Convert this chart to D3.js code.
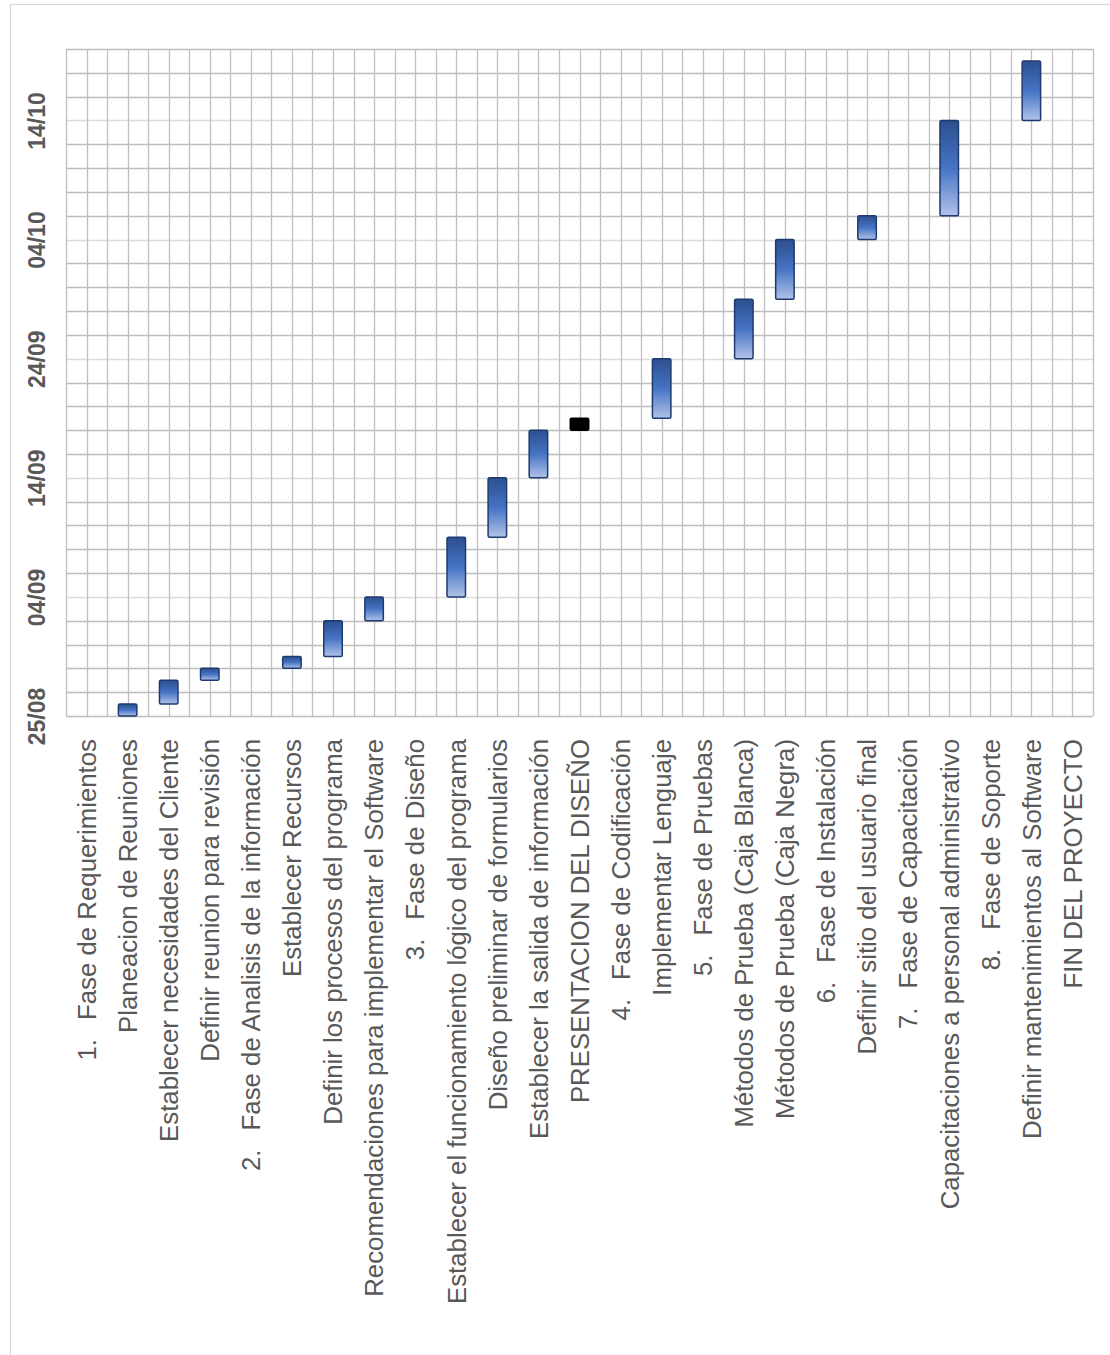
<!DOCTYPE html>
<html>
<head>
<meta charset="utf-8">
<script src="https://cdn.jsdelivr.net/npm/d3@7"></script>
<style>
  html, body { margin: 0; padding: 0; background: #ffffff; }
  svg { display: block; }
</style>
</head>
<body>
<svg id="chart" width="1110" height="1355"></svg>
<script>
// Project schedule: one column per task, dates run bottom (start) to top (end)
const categories = [
  "1. Fase de Requerimientos",
  "Planeacion de Reuniones",
  "Establecer necesidades del Cliente",
  "Definir reunion para revisión",
  "2. Fase de Analisis de la información",
  "Establecer Recursos",
  "Definir los procesos del programa",
  "Recomendaciones para implementar el Software",
  "3. Fase de Diseño",
  "Establecer el funcionamiento lógico del programa",
  "Diseño preliminar de formularios",
  "Establecer la salida de información",
  "PRESENTACION DEL DISEÑO",
  "4. Fase de Codificación",
  "Implementar Lenguaje",
  "5. Fase de Pruebas",
  "Métodos de Prueba (Caja Blanca)",
  "Métodos de Prueba (Caja Negra)",
  "6. Fase de Instalación",
  "Definir sitio del usuario final",
  "7. Fase de Capacitación",
  "Capacitaciones a personal administrativo",
  "8. Fase de Soporte",
  "Definir mantenimientos al Software",
  "FIN DEL PROYECTO"
];

const startDates = [
  null, "2019-08-25", "2019-08-26", "2019-08-28",
  null, "2019-08-29", "2019-08-30", "2019-09-02",
  null, "2019-09-04", "2019-09-09", "2019-09-14", "2019-09-18",
  null, "2019-09-19",
  null, "2019-09-24", "2019-09-29",
  null, "2019-10-04",
  null, "2019-10-06",
  null, "2019-10-14",
  null
];

const endDates = [
  null, "2019-08-26", "2019-08-28", "2019-08-29",
  null, "2019-08-30", "2019-09-02", "2019-09-04",
  null, "2019-09-09", "2019-09-14", "2019-09-18", "2019-09-19",
  null, "2019-09-24",
  null, "2019-09-29", "2019-10-04",
  null, "2019-10-06",
  null, "2019-10-14",
  null, "2019-10-19",
  null
];

const milestones = ["PRESENTACION DEL DISEÑO"];

const axisStart = "2019-08-25";
const axisEnd = "2019-10-20";
const tickDates = ["2019-08-25", "2019-09-04", "2019-09-14", "2019-09-24", "2019-10-04", "2019-10-14"];

const parse = d3.utcParse("%Y-%m-%d");
const fmt = d3.utcFormat("%d/%m");

const tasks = categories.map((c, i) => ({
  name: c,
  start: startDates[i] ? parse(startDates[i]) : null,
  end: endDates[i] ? parse(endDates[i]) : null
}));

const svg = d3.select("#chart");

// outer chart frame
svg.append("rect")
  .attr("x", 10.5).attr("y", 4.5)
  .attr("width", 1120).attr("height", 1370)
  .attr("fill", "#fff").attr("stroke", "#d9d9d9").attr("stroke-width", 1.2);

const plot = { left: 66, right: 1093, top: 49, bottom: 716 };

const x = d3.scaleBand()
  .domain(categories)
  .range([plot.left, plot.right])
  .padding(0);

const y = d3.scaleUtc()
  .domain([parse(axisStart), parse(axisEnd)])
  .range([plot.bottom, plot.top]);

// gradient for task bars
const defs = svg.append("defs");
const grad = defs.append("linearGradient")
  .attr("id", "barGrad")
  .attr("x1", 0).attr("y1", 0).attr("x2", 0).attr("y2", 1);
grad.append("stop").attr("offset", "0%").attr("stop-color", "#2c4f8f");
grad.append("stop").attr("offset", "50%").attr("stop-color", "#4673c4");
grad.append("stop").attr("offset", "100%").attr("stop-color", "#b0c2e8");

const grid = svg.append("g");

// horizontal grid: every 2 days, lighter line on the labelled 10-day ticks
const totalDays = d3.utcDay.count(parse(axisStart), parse(axisEnd));
const gridDays = d3.range(0, totalDays + 1, 2).map(k => d3.utcDay.offset(parse(axisStart), k));
const majorSet = new Set(tickDates.slice(1));
const keyFmt = d3.utcFormat("%Y-%m-%d");
grid.selectAll("line.h")
  .data(gridDays)
  .join("line")
  .attr("x1", plot.left).attr("x2", plot.right)
  .attr("y1", d => Math.round(y(d)) + 0.5)
  .attr("y2", d => Math.round(y(d)) + 0.5)
  .attr("stroke", d => majorSet.has(keyFmt(d)) ? "#dcdcdc" : "#bdbdbd")
  .attr("stroke-width", 1.3);

// vertical grid: column edges and column centres
const vPos = [];
categories.forEach(c => {
  vPos.push(x(c));
  vPos.push(x(c) + x.bandwidth() / 2);
});
vPos.push(plot.right);
grid.selectAll("line.v")
  .data(vPos)
  .join("line")
  .attr("x1", d => Math.round(d) + 0.5).attr("x2", d => Math.round(d) + 0.5)
  .attr("y1", plot.top).attr("y2", plot.bottom)
  .attr("stroke", "#c0c0c0")
  .attr("stroke-width", 1.3);

// date axis (left)
const yAxis = d3.axisLeft(y)
  .tickValues(tickDates.map(parse))
  .tickFormat(fmt)
  .tickSize(0);
const yg = svg.append("g")
  .attr("transform", `translate(${plot.left},0)`)
  .call(yAxis);
yg.select(".domain").remove();
yg.selectAll("text")
  .attr("x", 0).attr("y", 0).attr("dy", 0)
  .attr("transform", "translate(-21,0) rotate(-90)")
  .attr("text-anchor", "middle")
  .attr("fill", "#595959")
  .style("font-family", "'Liberation Sans Narrow', 'Liberation Sans', Arial, sans-serif")
  .style("font-weight", "bold")
  .style("font-size", "23px");

// category axis (bottom)
const xAxis = d3.axisBottom(x).tickSize(0).tickFormat("");
const xg = svg.append("g")
  .attr("transform", `translate(0,${plot.bottom})`)
  .call(xAxis);
xg.select(".domain").remove();
xg.selectAll(".tick text").remove();
xg.selectAll(".tick").each(function(d) {
  const t = d3.select(this).append("text")
    .attr("transform", "translate(0,23) rotate(-90)")
    .attr("text-anchor", "end")
    .attr("dy", "0.36em")
    .attr("fill", "#595959")
    .style("font-family", "'Liberation Sans', Arial, sans-serif")
    .style("font-size", "25.8px");
  const m = d.match(/^(\d\.)\s(.*)$/);
  if (m) {
    t.append("tspan").text(m[1]);
    t.append("tspan").attr("dx", 19).text(m[2]);
  } else {
    t.text(d);
  }
});

// task bars
const barW = x.bandwidth() * 0.45;
svg.append("g")
  .selectAll("rect")
  .data(tasks.filter(t => t.start && t.end))
  .join("rect")
  .attr("x", d => x(d.name) + (x.bandwidth() - barW) / 2)
  .attr("y", d => y(d.end))
  .attr("width", barW)
  .attr("height", d => y(d.start) - y(d.end))
  .attr("rx", 1.5)
  .attr("fill", d => milestones.includes(d.name) ? "#000000" : "url(#barGrad)")
  .attr("stroke", d => milestones.includes(d.name) ? "#000000" : "#1f3a6e")
  .attr("stroke-width", 1.5);
</script>
</body>
</html>
